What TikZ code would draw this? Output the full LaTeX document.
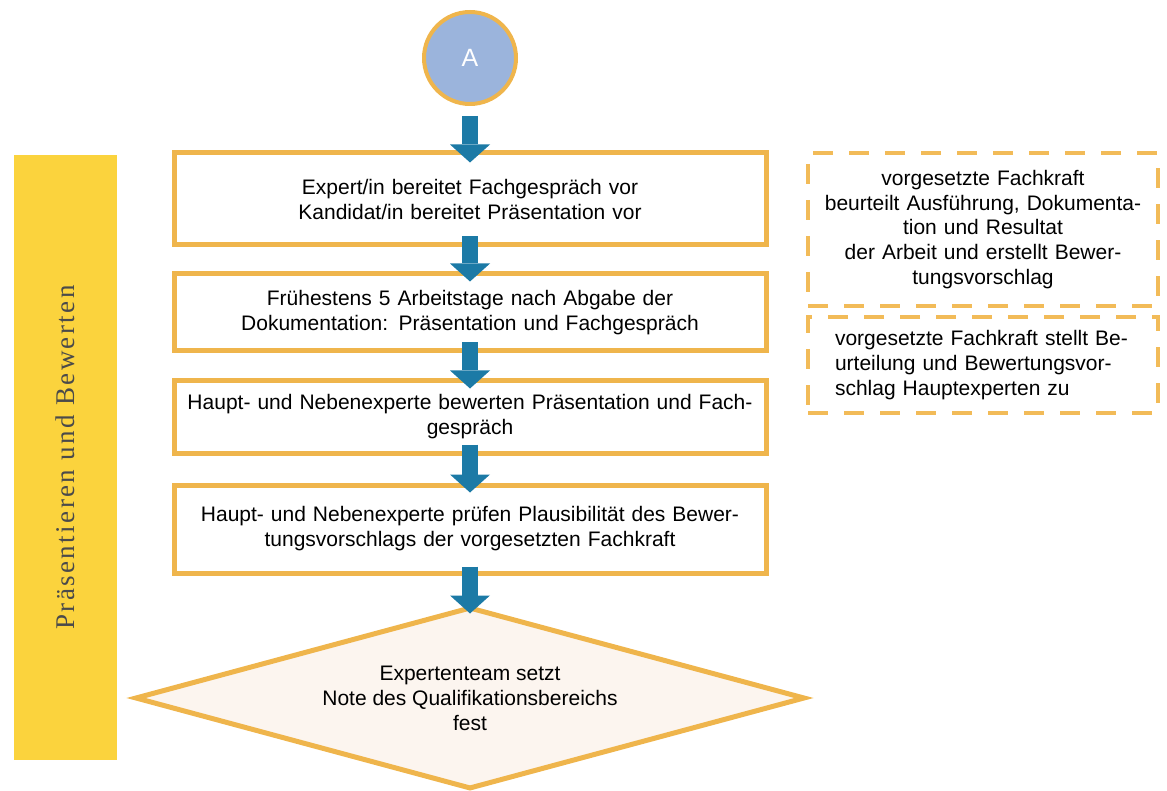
\documentclass[tikz,border=0pt]{standalone}
\usepackage{fontspec}
\setmainfont{Liberation Sans}
\newfontfamily\barfont[LetterSpace=9]{Liberation Serif}
\usetikzlibrary{shapes.geometric,arrows.meta}
\definecolor{boxorange}{HTML}{EFB54C}
\definecolor{dashorange}{HTML}{F2BB58}
\definecolor{baryellow}{HTML}{FBD33D}
\definecolor{arrowblue}{HTML}{1C7AA6}
\definecolor{circleblue}{HTML}{9BB4DC}
\definecolor{diamondfill}{HTML}{FCF5EF}
\definecolor{bartext}{HTML}{4A4A4A}

\begin{document}
\begin{tikzpicture}[x=1pt,y=-1pt,
  main node/.style={draw=boxorange,line width=5pt,fill=white,minimum width=592pt,text width=580pt,align=center,inner sep=0pt,font=\fontsize{21}{25}\selectfont},
  note node/.style={draw=dashorange,line width=4pt,dash pattern=on 20pt off 16pt,minimum width=350pt,inner sep=0pt,font=\fontsize{21}{24.7}\selectfont},
  flow/.style={draw=arrowblue,line width=16pt,-{Triangle[width=40pt,length=18pt,line width=0pt]},shorten <=-11pt,shorten >=-10pt}]

  \useasboundingbox (0,0) rectangle (1167,791);

  \node[rectangle,fill=baryellow,rotate=90,minimum width=605pt,minimum height=103pt,text=bartext,font=\barfont\fontsize{27}{30}\selectfont] (bar) at (65.5,457.5) {Präsentieren und Bewerten};

  \node[circle,draw=boxorange,line width=4pt,fill=circleblue,minimum size=92pt,text=white,font=\fontsize{25}{30}\selectfont] (A) at (470,58) {A};

  \node[main node,minimum height=92pt] (1) at (470,199) {Expert/in bereitet Fachgespräch vor\\Kandidat/in bereitet Präsentation vor};
  \node[main node,minimum height=77pt] (2) at (470,312.5) {Frühestens 5 Arbeitstage nach Abgabe der\\Dokumentation: Präsentation und Fachgespräch};
  \node[main node,minimum height=72pt] (3) at (470,417) {Haupt- und Nebenexperte bewerten Präsentation und Fach-\\gespräch};
  \node[main node,minimum height=88pt] (4) at (470,529) {Haupt- und Nebenexperte prüfen Plausibilität des Bewer-\\tungsvorschlags der vorgesetzten Fachkraft};
  \node[diamond,aspect=3.7,draw=boxorange,line width=5pt,fill=diamondfill,minimum width=670pt,minimum height=182pt,inner sep=0pt,align=center,font=\fontsize{21}{25}\selectfont] (5) at (470,698) {Expertenteam setzt\\Note des Qualifikationsbereichs\\fest};

  \node[note node,minimum height=153pt,text width=330pt,align=center] (21) at (983,229.5) {vorgesetzte Fachkraft\\beurteilt Ausführung, Dokumenta-\\tion und Resultat\\der Arbeit und erstellt Bewer-\\tungsvorschlag};
  \node[note node,minimum height=96pt,text width=296pt,align=left] (22) at (983,365) {vorgesetzte Fachkraft stellt Be-\\urteilung und Bewertungsvor-\\schlag Hauptexperten zu};

  \path
   (A) edge[flow,shorten <=10pt,shorten >=-12pt] (1)
   (1) edge[flow] (2)
   (2) edge[flow] (3)
   (3) edge[flow] (4)
   (4) edge[flow,shorten <=-9pt,shorten >=-9pt] (5);
\end{tikzpicture}
\end{document}
